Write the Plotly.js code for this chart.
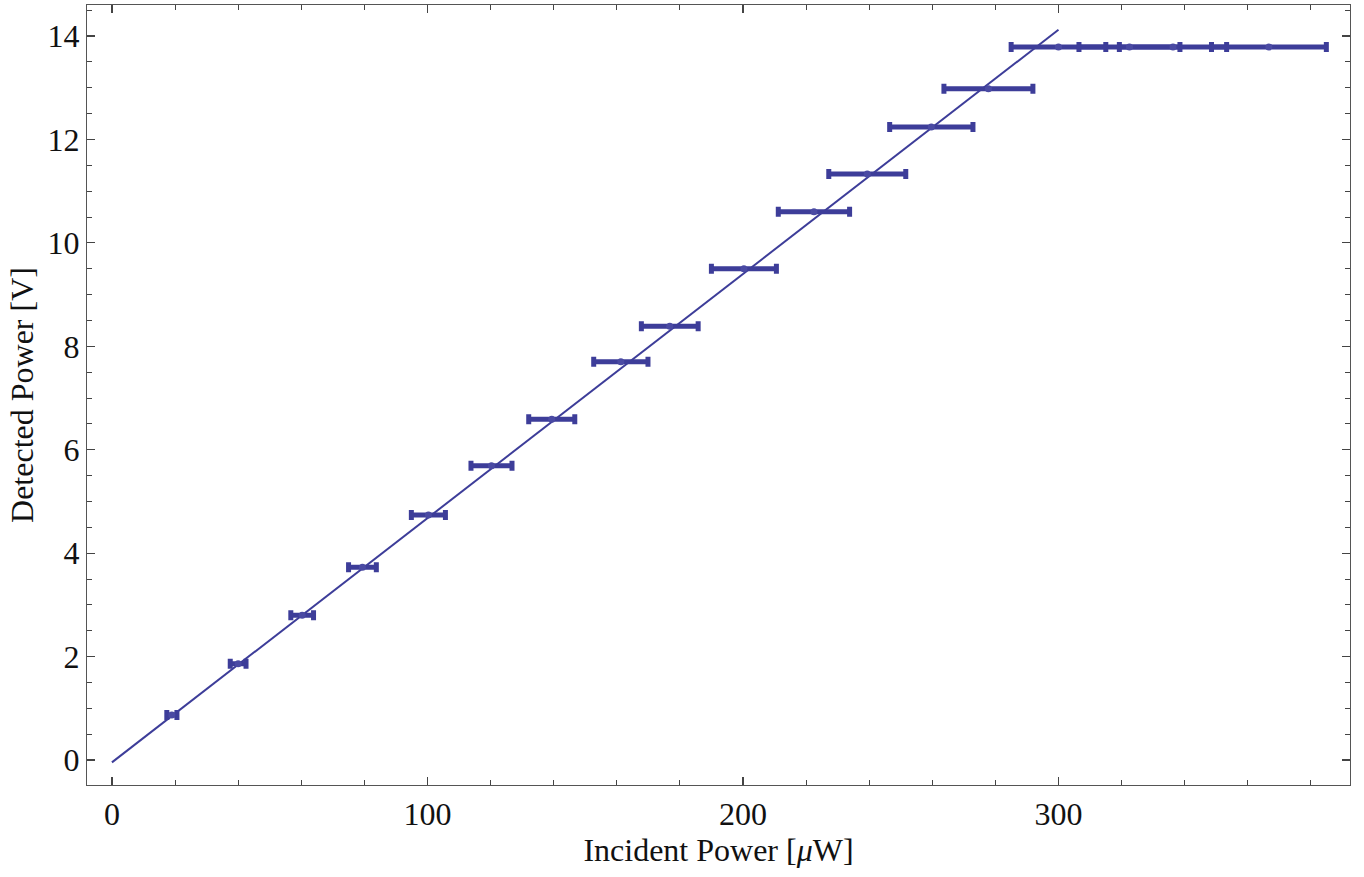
<!DOCTYPE html>
<html>
<head>
<meta charset="utf-8">
<script src="https://cdn.plot.ly/plotly-3.0.1.min.js"></script>
<style>html,body{margin:0;padding:0;background:#fff;}#chart{width:1364px;height:877px;}</style>
</head>
<body>
<div id="chart"></div>
<script>
const incidentPower = [19.0, 40.0, 60.3, 79.4, 100.3, 120.3, 139.4, 161.3, 176.8, 200.3, 222.5, 239.4, 259.7, 277.8, 300.0, 322.5, 336.3, 366.7];
const incidentErr   = [1.6, 2.5, 3.6, 4.4, 5.4, 6.5, 7.3, 8.6, 9.0, 10.3, 11.3, 12.2, 13.2, 14.1, 15.0, 16.0, 17.0, 18.2];
const detectedPower = [0.87, 1.86, 2.80, 3.73, 4.74, 5.69, 6.59, 7.70, 8.39, 9.50, 10.60, 11.33, 12.24, 12.98, 13.79, 13.79, 13.79, 13.79];
// Linear fit parameters and its x-range
const fitSlope = [0.04722];
const fitIntercept = [-0.045];
const fitRange = [0, 300];
const xTicks = [0, 100, 200, 300];
const yTicks = [0, 2, 4, 6, 8, 10, 12, 14];

const col = '#3d3d99';
const fitY = fitRange.map(x => fitSlope[0] * x + fitIntercept[0]);
const serif = '"Liberation Serif", "Times New Roman", serif';

const traces = [
  {
    x: fitRange, y: fitY, type: 'scatter', mode: 'lines',
    line: {color: col, width: 2}, hoverinfo: 'skip', showlegend: false
  },
  {
    x: incidentPower, y: detectedPower, type: 'scatter', mode: 'markers',
    marker: {color: '#4a4aa3', size: 7},
    error_x: {type: 'data', array: incidentErr, visible: true, color: col, thickness: 5, width: 5},
    showlegend: false
  }
];

const axisCommon = {
  showgrid: false, zeroline: false,
  showline: true, linecolor: '#555', linewidth: 1.2, mirror: 'allticks',
  ticks: 'inside', ticklen: 8, tickwidth: 1.2, tickcolor: '#444',
  tickfont: {family: serif, size: 32, color: '#111'}
};

const layout = {
  width: 1364, height: 877,
  margin: {l: 87, r: 14, t: 5, b: 92},
  paper_bgcolor: '#fff', plot_bgcolor: '#fff',
  font: {family: serif, color: '#111'},
  xaxis: Object.assign({}, axisCommon, {
    range: [-7.9, 392.4],
    tickmode: 'array', tickvals: xTicks, ticktext: xTicks.map(String),
    minor: {dtick: 20, tick0: 0, ticks: 'inside', ticklen: 5, tickcolor: '#444', tickwidth: 1},
    title: {text: 'Incident Power [<i>μ</i>W]', font: {size: 32, family: serif, color: '#111'}, standoff: 8}
  }),
  yaxis: Object.assign({}, axisCommon, {
    range: [-0.483, 14.6],
    tickmode: 'array', tickvals: yTicks, ticktext: yTicks.map(String),
    minor: {dtick: 0.5, tick0: 0, ticks: 'inside', ticklen: 5, tickcolor: '#444', tickwidth: 1},
    title: {text: 'Detected Power [V]', font: {size: 32, family: serif, color: '#111'}, standoff: 4}
  })
};

Plotly.newPlot('chart', traces, layout, {staticPlot: true, displayModeBar: false});
</script>
</body>
</html>
